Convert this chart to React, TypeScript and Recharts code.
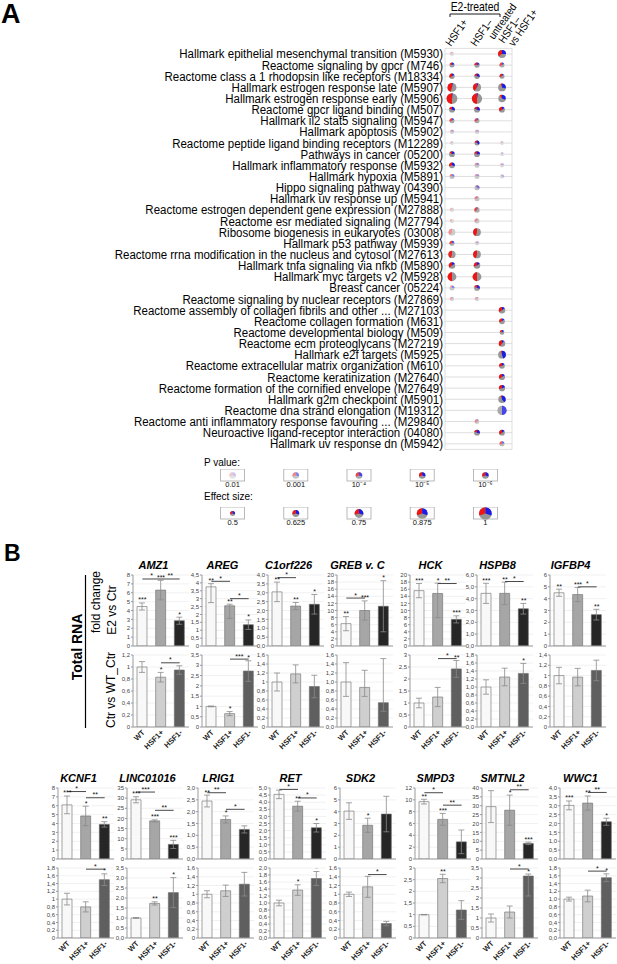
import React from 'react';
import {
  ScatterChart, Scatter, XAxis, YAxis, CartesianGrid, ComposedChart, Bar, Cell, ErrorBar, ReferenceLine,
} from 'recharts';

const SANS = '"Liberation Sans", Arial, sans-serif';
const SQUEEZE = 0.92;

// ---------- panel A data ----------
const PATHWAYS = [
  'Hallmark epithelial mesenchymal transition (M5930)',
  'Reactome signaling by gpcr (M746)',
  'Reactome class a 1 rhodopsin like receptors (M18334)',
  'Hallmark estrogen response late (M5907)',
  'Hallmark estrogen response early (M5906)',
  'Reactome gpcr ligand binding (M507)',
  'Hallmark il2 stat5 signaling (M5947)',
  'Hallmark apoptosis (M5902)',
  'Reactome peptide ligand binding receptors (M12289)',
  'Pathways in cancer (05200)',
  'Hallmark inflammatory response (M5932)',
  'Hallmark hypoxia (M5891)',
  'Hippo signaling pathway (04390)',
  'Hallmark uv response up (M5941)',
  'Reactome estrogen dependent gene expression (M27888)',
  'Reactome esr mediated signaling (M27794)',
  'Ribosome biogenesis in eukaryotes (03008)',
  'Hallmark p53 pathway (M5939)',
  'Reactome rrna modification in the nucleus and cytosol (M27613)',
  'Hallmark tnfa signaling via nfkb (M5890)',
  'Hallmark myc targets v2 (M5928)',
  'Breast cancer (05224)',
  'Reactome signaling by nuclear receptors (M27869)',
  'Reactome assembly of collagen fibrils and other ... (M27103)',
  'Reactome collagen formation (M631)',
  'Reactome developmental biology (M509)',
  'Reactome ecm proteoglycans (M27219)',
  'Hallmark e2f targets (M5925)',
  'Reactome extracellular matrix organization (M610)',
  'Reactome keratinization (M27640)',
  'Reactome formation of the cornified envelope (M27649)',
  'Hallmark g2m checkpoint (M5901)',
  'Reactome dna strand elongation (M19312)',
  'Reactome anti inflammatory response favouring ... (M29840)',
  'Neuroactive ligand-receptor interaction (04080)',
  'Hallmark uv response dn (M5942)',
];

// [effect size, -log10 p, share up (red), share down (blue)]
type Glyph = [number, number, number, number] | null;

const E2_HSF1_POS: Glyph[] = [
  [0.45, 2.2, 0.3, 0.1], [0.5, 4.5, 0.2, 0.2], [0.52, 5, 0.35, 0.15], [0.76, 6, 0.45, 0.03],
  [0.88, 6, 0.5, 0.02], [0.55, 6, 0.2, 0.3], [0.5, 4, 0.3, 0.15], [0.45, 2.6, 0.2, 0.2],
  [0.42, 2.2, 0.3, 0.1], [0.55, 5, 0.15, 0.2], [0.55, 5, 0.3, 0.3], [0.5, 3.2, 0.2, 0.25],
  null, null, [0.45, 2.3, 0.3, 0.05], [0.45, 2.3, 0.3, 0], [0.62, 2.8, 0.4, 0],
  [0.5, 4, 0.3, 0.2], [0.65, 4.5, 0.45, 0], [0.6, 5, 0.35, 0.15], [0.75, 6, 0.5, 0],
  [0.5, 3, 0.1, 0.25], [0.45, 2.6, 0.3, 0.1],
  null, null, null, null, null, null, null, null, null, null, null, null, null,
];

const E2_HSF1_NEG: Glyph[] = [
  null, [0.52, 4.5, 0.25, 0.2], [0.53, 5, 0.2, 0.3], [0.7, 6, 0.4, 0.05],
  [0.85, 6, 0.5, 0.03], [0.55, 6, 0.2, 0.3], [0.5, 4, 0.3, 0.1], [0.45, 2.6, 0.2, 0.2],
  [0.5, 5, 0.2, 0.35], [0.55, 5, 0.2, 0.25], [0.5, 3, 0.2, 0.2], [0.5, 2.8, 0.2, 0.2],
  [0.5, 3.5, 0.1, 0.3], [0.5, 3.2, 0.25, 0.05], [0.52, 4, 0.35, 0.05], [0.5, 3, 0.3, 0.05],
  [0.68, 5, 0.45, 0], [0.45, 2.5, 0.2, 0.2], [0.68, 5, 0.45, 0], [0.6, 5, 0.3, 0.15],
  [0.75, 6, 0.5, 0], [0.55, 4.5, 0.2, 0.3], [0.45, 2.6, 0.3, 0.1],
  null, null, null, null, null, null, null, null, null, null,
  [0.48, 3, 0.35, 0.1], [0.55, 5, 0.2, 0.3], null,
];

const UNTREATED_NEG_VS_POS: Glyph[] = [
  [0.7, 6, 0.35, 0.25], [0.5, 4, 0.3, 0.15], [0.5, 4.5, 0.3, 0.1], [0.68, 6, 0.05, 0.3],
  [0.66, 6, 0.1, 0.3], [0.55, 6, 0.35, 0.15], null, null,
  [0.42, 2.3, 0.2, 0.1], [0.42, 2.3, 0.1, 0.15], [0.45, 2.4, 0.2, 0.2], [0.45, 2.4, 0.1, 0.3],
  null, null, null, null, null, null, null, null, null, null, null,
  [0.6, 5, 0.35, 0.15], [0.55, 4.5, 0.3, 0.15], [0.48, 4.5, 0.2, 0.15], [0.6, 6, 0.4, 0.1],
  [0.68, 6, 0.05, 0.45], [0.55, 5, 0.3, 0.15], [0.58, 5, 0.35, 0.15], [0.58, 5, 0.3, 0.2],
  [0.66, 6, 0.05, 0.4], [0.78, 4, 0, 0.5], null, [0.55, 5, 0.35, 0.15], [0.5, 3.5, 0.3, 0.2],
];

const GLYPH_COLUMNS = [E2_HSF1_POS, E2_HSF1_NEG, UNTREATED_NEG_VS_POS];

const P_LEVELS = ['0.01', '0.001', '10\u207B\u2074', '10\u207B\u2075', '10\u207B\u2076'];
const P_LOGS = [2, 3, 4, 5, 6];
const EFFECT_LEVELS = [0.5, 0.625, 0.75, 0.875, 1];

// ---------- panel B data ----------
const GROUPS = ['WT', 'HSF1+', 'HSF1-'];

const TOP_GENES = ['AMZ1', 'AREG', 'C1orf226', 'GREB v. C', 'HCK', 'HSPB8', 'IGFBP4'];
const TOP_E2_VALUES = [[4.45, 6.3, 2.85], [3.75, 2.55, 1.35], [3.05, 2.25, 2.35], [6.3, 10, 11.2], [15.6, 14.8, 7.5], [4.45, 4.45, 3.15], [4.5, 4.35, 2.65]];
const TOP_E2_ERRORS: (number | number[])[][] = [[0.4, 1.1, 0.4], [[1.0, 0.2], [0.8, 0.1], 0.3], [0.55, 0.2, 0.55], [2, 2.7, 7.2], [2, [6.8, 2.9], 1], [0.85, 0.95, 0.45], [0.3, 0.6, 0.45]];
const TOP_E2_STARS = [['***', '***', '*'], ['**', '**', '*'], ['**', '**', '*'], ['**', '***', '*'], ['***', '*', '***'], ['***', '**', '**'], ['**', '***', '**']];
const TOP_E2_BRACKETS: [number, number, number, string][][] = [
  [[0, 1, 7.55, '*'], [1, 2, 7.55, '**']], [[0, 1, 4.1, '*'], [1, 2, 3.0, '*']], [[0, 1, 3.85, '*']],
  [[0, 1, 13.5, '*']], [[1, 2, 17.6, '**']], [[1, 2, 5.45, '*']], [[1, 2, 5.0, '*']],
];
const TOP_E2_TICKS = [
  '0 1 2 3 4 5 6 7 8', '0 0,5 1 1,5 2 2,5 3 3,5 4 4,5', '0,0 0,5 1,0 1,5 2,0 2,5 3,0 3,5 4,0',
  '0 2 4 6 8 10 12 14 16 18 20', '0 2 4 6 8 10 12 14 16 18 20', '0,0 1,0 2,0 3,0 4,0 5,0 6,0', '0 1 2 3 4 5 6',
];
const TOP_CTR_VALUES = [[1, 0.83, 0.95], [1, 0.65, 2.72], [1, 1.18, 0.9], [1, 0.88, 0.54], [1, 1.25, 2.42], [1, 1.25, 1.34], [1, 0.97, 1.1]];
const TOP_CTR_ERRORS: (number | number[])[][] = [[0.09, 0.08, 0.07], [0.02, 0.1, 0.5], [0.2, 0.2, 0.25], [[0.32, 0.43], [0.2, 0.38], [0.19, 0.98]], [0.2, 0.4, 0.35], [0.18, 0.22, 0.25], [0.16, 0.17, 0.2]];
const TOP_CTR_STARS = [['', '*', ''], ['', '*', '*'], ['', '', ''], ['', '', ''], ['', '', '**'], ['', '', '*'], ['', '', '']];
const TOP_CTR_BRACKETS: [number, number, number, string][][] = [[[1, 2, 1.07, '*']], [[1, 2, 3.3, '***']], [], [], [[1, 2, 2.85, '*']], [], []];
const TOP_CTR_TICKS = [
  '0 0,2 0,4 0,6 0,8 1 1,2', '0 0,5 1 1,5 2 2,5 3 3,5', '0 0,2 0,4 0,6 0,8 1 1,2 1,4 1,6',
  '0,0 0,2 0,4 0,6 0,8 1,0 1,2 1,4 1,6', '0 0,5 1 1,5 2 2,5 3', '0,0 0,2 0,4 0,6 0,8 1,0 1,2 1,4 1,6 1,8',
  '0 0,2 0,4 0,6 0,8 1 1,2 1,4',
];

const BOTTOM_GENES = ['KCNF1', 'LINC01016', 'LRIG1', 'RET', 'SDK2', 'SMPD3', 'SMTNL2', 'WWC1'];
const BOTTOM_E2_VALUES = [[6.1, 4.85, 3.9], [29.2, 18.8, 7.2], [2.45, 1.67, 1.25], [4.55, 3.72, 2.2], [4.05, 2.85, 3.8], [9.7, 6.7, 2.9], [29.5, 27.5, 8.8], [3.02, 3.15, 2.1]];
const BOTTOM_E2_ERRORS: (number | number[])[][] = [[1, 1.1, 0.3], [1.5, 0.5, 2], [0.25, 0.15, 0.15], [0.3, 0.35, 0.3], [0.7, 0.6, 1.5], [0.4, 1, 2], [9, 8.5, 0.7], [0.25, 0.4, 0.2]];
const BOTTOM_E2_STARS = [['***', '*', '**'], ['***', '***', '***'], ['**', '*', ''], ['***', '**', '*'], ['', '*', ''], ['**', '***', ''], ['**', '*', '***'], ['***', '**', '*']];
const BOTTOM_E2_BRACKETS: [number, number, number, string][][] = [
  [[0, 1, 7.6, '*'], [1, 2, 6.9, '**']], [[0, 1, 33, '***'], [1, 2, 24, '**']], [[0, 1, 2.8, '**'], [1, 2, 2.1, '*']],
  [[0, 1, 4.9, '*'], [1, 2, 4.3, '*']], [], [[0, 1, 11.2, '*'], [1, 2, 9.1, '**']], [[1, 2, 39, '**']], [[1, 2, 3.75, '**']],
];
const BOTTOM_E2_TICKS = [
  '0 1 2 3 4 5 6 7 8', '0 5 10 15 20 25 30 35', '0,0 0,5 1,0 1,5 2,0 2,5 3,0', '0,0 0,5 1,0 1,5 2,0 2,5 3,0 3,5 4,0 4,5 5,0',
  '0 1 2 3 4 5 6', '0 2 4 6 8 10 12', '0 5 10 15 20 25 30 35 40', '0,0 0,5 1,0 1,5 2,0 2,5 3,0 3,5 4,0',
];
const BOTTOM_CTR_VALUES = [[1, 0.8, 1.5], [1, 1.73, 2.27], [1, 1.08, 1.23], [1, 1.37, 1.7], [1, 1.17, 0.33], [1, 2.55, 1.2], [1, 1.3, 3.1], [1, 1.08, 1.55]];
const BOTTOM_CTR_ERRORS: (number | number[])[][] = [[0.15, 0.13, 0.15], [0.02, 0.08, 0.75], [0.08, 0.13, 0.27], [0.08, 0.15, 0.2], [0.05, 0.24, 0.05], [0.01, 0.18, 0.4], [0.2, 0.3, [1, 0.1]], [0.05, 0.15, 0.1]];
const BOTTOM_CTR_STARS = [['', '', '*'], ['', '**', '*'], ['', '', ''], ['', '*', '*'], ['', '', ''], ['', '**', ''], ['', '', '*'], ['', '', '*']];
const BOTTOM_CTR_BRACKETS: [number, number, number, string][][] = [[[1, 2, 1.77, '*']], [], [], [], [[1, 2, 1.45, '*']], [], [[1, 2, 3.45, '*']], [[1, 2, 1.72, '*']]];
const BOTTOM_CTR_TICKS = [
  '0 0,2 0,4 0,6 0,8 1 1,2 1,4 1,6 1,8', '0,0 0,5 1,0 1,5 2,0 2,5 3,0 3,5', '0 0,2 0,4 0,6 0,8 1 1,2 1,4 1,6',
  '0,0 0,2 0,4 0,6 0,8 1,0 1,2 1,4 1,6 1,8 2,0', '0 0,2 0,4 0,6 0,8 1 1,2 1,4 1,6', '0 0,5 1 1,5 2 2,5 3',
  '0 0,5 1 1,5 2 2,5 3 3,5', '0,0 0,2 0,4 0,6 0,8 1,0 1,2 1,4 1,6 1,8',
];

// ---------- layout ----------
const COL_X_DOMAIN: [number, number] = [0.72, 3.4];
const TOP_AXIS_X = [133, 202, 268, 337, 410, 477, 550];
const BOTTOM_AXIS_X = [58, 127, 198, 270, 340, 415, 482, 560];
const PLOT_W = 56;
const YW = 17;
const MT = 5;
const E2_FILLS = ['#f8f8f8', '#a6a6a6', '#262626'];
const CTR_FILLS = ['#f8f8f8', '#cfcfcf', '#5f5f5f'];

const glyphRadius = (effect: number) => 2.5 + (effect - 0.5) * 7.6;
const glyphAlpha = (pLog: number) => Math.max(0.25, Math.min(1, 0.25 + (pLog - 2) * 0.28));

function wedgePath(cx: number, cy: number, r: number, frac: number, dir: number) {
  const ang = frac * 2 * Math.PI;
  const ex = cx + dir * r * Math.sin(ang);
  const ey = cy - r * Math.cos(ang);
  const large = frac > 0.5 ? 1 : 0;
  const sweep = dir > 0 ? 1 : 0;
  return `M${cx},${cy} L${cx},${cy - r} A${r},${r} 0 ${large} ${sweep} ${ex},${ey} Z`;
}

function drawGlyph(cx: number, cy: number, effect: number, pLog: number, up: number, down: number) {
  const r = glyphRadius(effect);
  return (
    <g>
      <circle cx={cx} cy={cy} r={r} fill="#fff" />
      <g opacity={glyphAlpha(pLog)}>
        <circle cx={cx} cy={cy} r={r} fill="#969696" />
        {up > 0 && <path d={wedgePath(cx, cy, r, up, -1)} fill="#f01414" />}
        {down > 0 && <path d={wedgePath(cx, cy, r, down, 1)} fill="#1c1ce8" />}
      </g>
    </g>
  );
}

const PieGlyph = (props: any) => {
  const { cx, cy, payload } = props;
  if (cx == null || cy == null) return <g />;
  return drawGlyph(cx, cy, payload.effect, payload.pLog, payload.up, payload.down);
};

const LegendBox = (props: any) => {
  const { cx, cy, payload } = props;
  if (cx == null || cy == null) return <g />;
  return (
    <g>
      <rect x={cx - 12} y={cy - 6} width={24} height={12} fill="#fff" stroke="#a8a8a8" strokeWidth={0.8} />
      {drawGlyph(cx, cy + 0.5, payload.effect, payload.pLog, 0.3, 0.3)}
    </g>
  );
};

// narrow look: Arial metrics squeezed horizontally
const PathwayTick = (props: any) => {
  const { x, y, payload } = props;
  return (
    <text transform={`translate(${x},${y}) scale(${SQUEEZE},1)`} textAnchor="end" dy="0.36em" fontSize={12.5} fontFamily={SANS} fill="#000">
      {PATHWAYS[payload.value - 1]}
    </text>
  );
};

function Slanted({ x, y, children }: { x: number; y: number; children: string }) {
  return (
    <text transform={`translate(${x},${y}) rotate(-55) scale(0.87,1)`} fontSize={11} fontFamily={SANS} fill="#000">{children}</text>
  );
}

function PathwayPanel() {
  const series = GLYPH_COLUMNS.map((col, c) =>
    col.map((g, i) => (g ? { x: c + 1, y: i + 1, effect: g[0], pLog: g[1], up: g[2], down: g[3] } : null))
      .filter((d) => d !== null)
  );
  return (
    <div style={{ position: 'absolute', left: 0, top: 0 }}>
      <ScatterChart width={617} height={453} margin={{ top: 48.4, right: 105, bottom: 2.6, left: 0 }}>
        <CartesianGrid stroke="#d6d6d6" strokeWidth={0.8} />
        <XAxis type="number" dataKey="x" domain={COL_X_DOMAIN} ticks={[1, 2, 3]} tick={false} axisLine={false} tickLine={false} height={1} />
        <YAxis
          type="number" dataKey="y" domain={[0.5, 36.5]} reversed interval={0}
          ticks={PATHWAYS.map((_, i) => i + 1)}
          width={445} tickSize={0} tickMargin={2} axisLine={false}
          tick={PathwayTick}
        />
        {series.map((s, i) => (
          <Scatter key={i} data={s} shape={PieGlyph} isAnimationActive={false} />
        ))}
      </ScatterChart>
    </div>
  );
}

function LegendRow({ top, labels, pts }: { top: number; labels: string[]; pts: { x: number; y: number; effect: number; pLog: number }[] }) {
  return (
    <div style={{ position: 'absolute', left: 201, top }}>
      <ScatterChart width={316} height={24} margin={{ top: 0, right: 0, bottom: 0, left: 0 }}>
        <XAxis type="number" dataKey="x" domain={[-0.5, 4.5]} ticks={[0, 1, 2, 3, 4]} interval={0}
          tickFormatter={(v: number) => labels[v]} tickSize={0} tickMargin={1} axisLine={false} height={12}
          tick={{ fontSize: 7.5, fill: '#111', fontFamily: SANS }} />
        <YAxis type="number" dataKey="y" domain={[0, 1]} hide />
        <Scatter data={pts} shape={LegendBox} isAnimationActive={false} />
      </ScatterChart>
    </div>
  );
}

const StarMark = (props: any) => {
  const { cx, cy, payload } = props;
  if (!payload.star || cx == null) return <g />;
  return (
    <text x={cx} y={cy - 0.5} textAnchor="middle" fontSize={7} fontFamily={SANS} fill="#111">{payload.star}</text>
  );
};

const GroupTick = (props: any) => {
  const { x, y, payload } = props;
  const ax = x + 3;
  const ay = y + 6;
  return (
    <text x={ax} y={ay} transform={`rotate(-45 ${ax} ${ay})`} textAnchor="end" fontSize={7.5} fontWeight="bold" fontFamily={SANS} fill="#222">
      {payload.value}
    </text>
  );
};

interface MiniProps {
  values: number[];
  errors: (number | number[])[];
  stars: string[];
  brackets: [number, number, number, string][];
  ticks: string;
  fills: string[];
  axisX: number;
  plotTop: number;
  plotH: number;
  showX: boolean;
}

function MiniChart(p: MiniProps) {
  const labels = p.ticks.split(' ');
  const tickVals = labels.map((t) => parseFloat(t.replace(',', '.')));
  const max = Math.max(...tickVals);
  const data = GROUPS.map((g, i) => {
    const e = p.errors[i];
    const hi = Array.isArray(e) ? e[1] : e;
    return { group: g, value: p.values[i], err: e, starY: p.values[i] + hi, star: p.stars[i] };
  });
  const xh = p.showX ? 26 : 1;
  const mb = p.showX ? 0 : 5;
  return (
    <div style={{ position: 'absolute', left: p.axisX - YW, top: p.plotTop - MT }}>
      <ComposedChart width={YW + PLOT_W + 3} height={MT + p.plotH + xh + mb} data={data} margin={{ top: MT, right: 3, bottom: mb, left: 0 }}>
        <CartesianGrid vertical={false} stroke="#ebebeb" strokeWidth={0.7} />
        <XAxis dataKey="group" type="category" interval={0} height={xh} axisLine={{ stroke: '#9a9a9a' }} tickLine={false}
          tickSize={0} tickMargin={0} tick={p.showX ? GroupTick : false} />
        <YAxis type="number" domain={[0, max]} ticks={tickVals} interval={0} allowDataOverflow width={YW}
          tickFormatter={(v: number) => labels[tickVals.indexOf(v)] ?? ''}
          tickSize={2} tickMargin={1} axisLine={{ stroke: '#9a9a9a' }} tickLine={{ stroke: '#9a9a9a' }}
          tick={{ fontSize: 6, fill: '#444', fontFamily: SANS }} />
        <Bar dataKey="value" barSize={10} stroke="#6a6a6a" strokeWidth={0.6} isAnimationActive={false}>
          {data.map((d, i) => <Cell key={d.group} fill={p.fills[i]} />)}
          <ErrorBar dataKey="err" width={3} stroke="#8a8a8a" strokeWidth={0.8} direction="y" />
        </Bar>
        <Scatter dataKey="starY" shape={StarMark} isAnimationActive={false} />
        {p.brackets.map(([a, b, y, s], i) => (
          <ReferenceLine key={i} segment={[{ x: GROUPS[a], y }, { x: GROUPS[b], y }]} stroke="#333" strokeWidth={0.9}
            ifOverflow="visible" label={{ value: s, position: 'top', offset: 0.5, fontSize: 7, fill: '#111' }} />
        ))}
      </ComposedChart>
    </div>
  );
}

function GeneRow(props: {
  genes: string[]; axisX: number[]; upperTop: number; upperH: number; lowerTop: number; lowerH: number;
  e2Values: number[][]; e2Errors: (number | number[])[][]; e2Stars: string[][]; e2Brackets: [number, number, number, string][][]; e2Ticks: string[];
  ctrValues: number[][]; ctrErrors: (number | number[])[][]; ctrStars: string[][]; ctrBrackets: [number, number, number, string][][]; ctrTicks: string[];
}) {
  return (
    <>
      {props.genes.map((g, i) => (
        <React.Fragment key={g}>
          <MiniChart values={props.e2Values[i]} errors={props.e2Errors[i]} stars={props.e2Stars[i]} brackets={props.e2Brackets[i]}
            ticks={props.e2Ticks[i]} fills={E2_FILLS} axisX={props.axisX[i]} plotTop={props.upperTop} plotH={props.upperH} showX={false} />
          <MiniChart values={props.ctrValues[i]} errors={props.ctrErrors[i]} stars={props.ctrStars[i]} brackets={props.ctrBrackets[i]}
            ticks={props.ctrTicks[i]} fills={CTR_FILLS} axisX={props.axisX[i]} plotTop={props.lowerTop} plotH={props.lowerH} showX />
        </React.Fragment>
      ))}
    </>
  );
}

function Overlay() {
  const titleX = (ax: number) => (ax - 15 + ax + PLOT_W) / 2;
  return (
    <svg width={617} height={964} style={{ position: 'absolute', left: 0, top: 0, pointerEvents: 'none' }}>
      <text x={1} y={23} fontSize={27} fontWeight="bold" fontFamily={SANS}>A</text>
      <text x={4} y={561} fontSize={23} fontWeight="bold" fontFamily={SANS}>B</text>

      <text transform="translate(475,11) scale(0.87,1)" fontSize={12} textAnchor="middle" fontFamily={SANS}>E2-treated</text>
      <path d="M450,17 L450,14 L500,14 L500,17" fill="none" stroke="#000" strokeWidth={0.9} />
      <Slanted x={451} y={47}>HSF1+</Slanted>
      <Slanted x={476} y={47}>HSF1–</Slanted>
      <Slanted x={494} y={40}>untreated</Slanted>
      <Slanted x={504} y={44}>HSF1–</Slanted>
      <Slanted x={514} y={47}>vs HSF1+</Slanted>

      <text x={204} y={466} fontSize={10} fontFamily={SANS}>P value:</text>
      <text x={204} y={500} fontSize={10} fontFamily={SANS}>Effect size:</text>

      <text x={82} y={647} fontSize={14} fontWeight="bold" fontFamily={SANS} textAnchor="middle" transform="rotate(-90 82 647)">Total RNA</text>
      <line x1={85.5} y1={575} x2={85.5} y2={728} stroke="#000" strokeWidth={1.2} />
      <text x={100} y={602} fontSize={12} fontFamily={SANS} textAnchor="middle" transform="rotate(-90 100 602)">fold change</text>
      <text x={116} y={610} fontSize={12} fontFamily={SANS} textAnchor="middle" transform="rotate(-90 116 610)">E2 vs Ctr</text>
      <text x={115} y={690} fontSize={12} fontFamily={SANS} textAnchor="middle" transform="rotate(-90 115 690)">Ctr vs WT_Ctr</text>

      {TOP_GENES.map((g, i) => (
        <text key={g} x={titleX(TOP_AXIS_X[i])} y={569} fontSize={11} fontWeight="bold" fontStyle="italic" textAnchor="middle" fontFamily={SANS}>{g}</text>
      ))}
      {BOTTOM_GENES.map((g, i) => (
        <text key={g} x={titleX(BOTTOM_AXIS_X[i])} y={782} fontSize={11} fontWeight="bold" fontStyle="italic" textAnchor="middle" fontFamily={SANS}>{g}</text>
      ))}
    </svg>
  );
}

export default function App() {
  const pPts = P_LOGS.map((pl, i) => ({ x: i, y: 0.5, effect: 0.6, pLog: pl }));
  const ePts = EFFECT_LEVELS.map((e, i) => ({ x: i, y: 0.5, effect: e, pLog: 6 }));
  const effectLabels = EFFECT_LEVELS.map((e) => String(e));
  return (
    <div style={{ position: 'absolute', left: 0, top: 0, width: 617, height: 964, background: '#fff', overflow: 'hidden', fontFamily: SANS }}>
      <PathwayPanel />
      <LegendRow top={469} labels={P_LEVELS} pts={pPts} />
      <LegendRow top={507} labels={effectLabels} pts={ePts} />
      <GeneRow genes={TOP_GENES} axisX={TOP_AXIS_X} upperTop={575} upperH={71} lowerTop={655} lowerH={72}
        e2Values={TOP_E2_VALUES} e2Errors={TOP_E2_ERRORS} e2Stars={TOP_E2_STARS} e2Brackets={TOP_E2_BRACKETS} e2Ticks={TOP_E2_TICKS}
        ctrValues={TOP_CTR_VALUES} ctrErrors={TOP_CTR_ERRORS} ctrStars={TOP_CTR_STARS} ctrBrackets={TOP_CTR_BRACKETS} ctrTicks={TOP_CTR_TICKS} />
      <GeneRow genes={BOTTOM_GENES} axisX={BOTTOM_AXIS_X} upperTop={788} upperH={71} lowerTop={868} lowerH={70}
        e2Values={BOTTOM_E2_VALUES} e2Errors={BOTTOM_E2_ERRORS} e2Stars={BOTTOM_E2_STARS} e2Brackets={BOTTOM_E2_BRACKETS} e2Ticks={BOTTOM_E2_TICKS}
        ctrValues={BOTTOM_CTR_VALUES} ctrErrors={BOTTOM_CTR_ERRORS} ctrStars={BOTTOM_CTR_STARS} ctrBrackets={BOTTOM_CTR_BRACKETS} ctrTicks={BOTTOM_CTR_TICKS} />
      <Overlay />
    </div>
  );
}
